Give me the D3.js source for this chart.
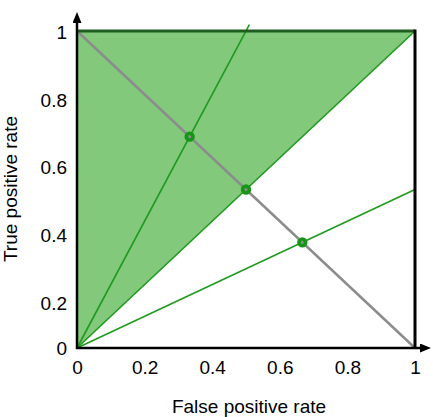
<!DOCTYPE html>
<meta charset="utf-8">
<style>
    body { margin: 0; background: #fff; }
    text { font-family: "Liberation Sans", Arial, sans-serif; font-size: 19px; fill: #000; }
</style>
<body>
<script src="https://d3js.org/d3.v7.min.js"></script>
<script>

    // data
    var xTicks = [0, 0.2, 0.4, 0.6, 0.8, 1];
    var xTickLabels = ["0", "0.2", "0.4", "0.6", "0.8", "1"];
    var yTicks = [0, 0.2, 0.4, 0.6, 0.8, 1];
    var yTickLabels = ["0", "0.2", "0.4", "0.6", "0.8", "1"];
    var regionFPR = [0, 0, 1];          // shaded triangle corners
    var regionTPR = [0, 1, 1];
    var rayEndFPR = [0.51, 1, 1];       // lines out of the origin
    var rayEndTPR = [1.02, 1, 0.5];
    var diagFPR = [0, 1];               // gray line from (0,1) to (1,0)
    var diagTPR = [1, 0];
    var pointFPR = [1 / 3, 0.5, 2 / 3]; // marked points
    var pointTPR = [2 / 3, 0.5, 1 / 3];

    var width = 433, height = 417;

    var x = d3.scaleLinear().domain([0, 1]).range([77, 415]);
    var y = d3.scaleLinear().domain([0, 1]).range([348, 31]);
    // y labels in the picture sit a bit off their ticks
    var yLab = d3.scaleLinear().domain([0, 0.2, 1]).range([348, 303, 32.5]);

    var svg = d3.select("body").append("svg")
            .attr("width", width)
            .attr("height", height);

    var defs = svg.append("defs");
    defs.append("marker")
            .attr("id", "arrow")
            .attr("viewBox", "0 0 11 9")
            .attr("refX", 0)
            .attr("refY", 4.5)
            .attr("markerWidth", 11)
            .attr("markerHeight", 9)
            .attr("markerUnits", "userSpaceOnUse")
            .attr("orient", "auto")
        .append("path")
            .attr("d", "M0,0L11,4.5L0,9Z")
            .attr("fill", "#000");

    var line = d3.line().x(function(d) { return x(d[0]); }).y(function(d) { return y(d[1]); });

    // shaded region
    svg.append("path")
            .datum(d3.zip(regionFPR, regionTPR))
            .attr("d", line.curve(d3.curveLinearClosed))
            .attr("fill", "#82c97c");
    line.curve(d3.curveLinear);

    // rays from origin
    svg.selectAll("line.ray")
            .data(d3.zip(rayEndFPR, rayEndTPR))
        .enter().append("line")
            .attr("class", "ray")
            .attr("x1", x(0)).attr("y1", y(0))
            .attr("x2", function(d) { return x(d[0]); })
            .attr("y2", function(d) { return y(d[1]); })
            .attr("stroke", "#1f9a1f")
            .attr("stroke-width", 1.6);

    // gray diagonal
    svg.append("path")
            .datum(d3.zip(diagFPR, diagTPR))
            .attr("d", line)
            .attr("fill", "none")
            .attr("stroke", "#8c8c8c")
            .attr("stroke-width", 2.5);

    // top edge and right edge
    svg.append("line")
            .attr("x1", x(0)).attr("y1", y(1))
            .attr("x2", x(1)).attr("y2", y(1))
            .attr("stroke", "#1e5e1e")
            .attr("stroke-width", 3);
    svg.append("line")
            .attr("x1", x(1)).attr("y1", y(1) - 1.5)
            .attr("x2", x(1)).attr("y2", y(0))
            .attr("stroke", "#000")
            .attr("stroke-width", 3);

    // axis lines with arrows
    svg.append("line")
            .attr("x1", x(0) - 1).attr("y1", y(0))
            .attr("x2", x(1) + 5).attr("y2", y(0))
            .attr("stroke", "#000")
            .attr("stroke-width", 2.5)
            .attr("marker-end", "url(#arrow)");
    svg.append("line")
            .attr("x1", x(0)).attr("y1", y(0) + 1)
            .attr("x2", x(0)).attr("y2", y(1) - 8)
            .attr("stroke", "#000")
            .attr("stroke-width", 2.5)
            .attr("marker-end", "url(#arrow)");

    // tick labels
    var xAxis = d3.axisBottom(x)
            .tickValues(xTicks)
            .tickSize(0)
            .tickPadding(13)
            .tickFormat(function(d, i) { return xTickLabels[i]; });
    var yAxis = d3.axisLeft(yLab)
            .tickValues(yTicks)
            .tickSize(0)
            .tickPadding(10)
            .tickFormat(function(d, i) { return yTickLabels[i]; });

    var gx = svg.append("g")
            .attr("transform", "translate(0," + y(0) + ")")
            .call(xAxis);
    var gy = svg.append("g")
            .attr("transform", "translate(" + x(0) + ",0)")
            .call(yAxis);
    [gx, gy].forEach(function(g) {
        g.select(".domain").remove();
        g.selectAll("text")
                .attr("fill", "#000")
                .style("font-family", "\"Liberation Sans\", Arial, sans-serif")
                .style("font-size", "19px");
    });

    // points
    svg.selectAll("circle.pt")
            .data(d3.zip(pointFPR, pointTPR))
        .enter().append("circle")
            .attr("class", "pt")
            .attr("cx", function(d) { return x(d[0]); })
            .attr("cy", function(d) { return y(d[1]); })
            .attr("r", 3.4)
            .attr("fill", "none")
            .attr("stroke", "#169616")
            .attr("stroke-width", 3.6);

    // axis titles
    svg.append("text")
            .attr("x", 249)
            .attr("y", 413)
            .attr("text-anchor", "middle")
            .text("False positive rate");
    svg.append("text")
            .attr("transform", "translate(17,189) rotate(-90)")
            .attr("text-anchor", "middle")
            .text("True positive rate");

</script>
</body>
